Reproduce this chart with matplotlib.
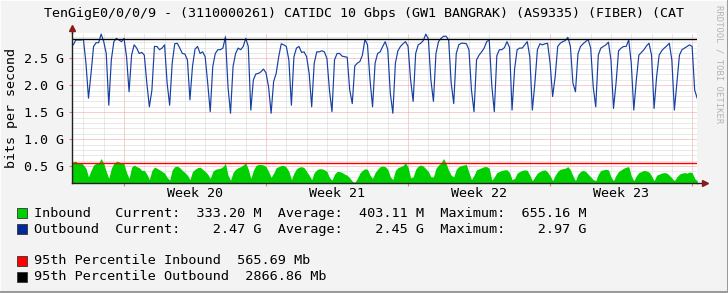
import numpy as np
import matplotlib
matplotlib.use("Agg")
import matplotlib.pyplot as plt
from matplotlib.patches import Rectangle
from matplotlib.lines import Line2D

# ---------------- data (Gbps), samples every 3 hours ----------------
t_start = -2.625          # days relative to start of week 20
t_step = 0.125
outbound = [
    2.72, 2.75, 2.84, 2.84, 2.84, 2.85, 2.41, 1.76, 2.22, 2.72, 2.79, 2.79, 2.95, 2.81, 2.59, 1.63,
    2.47, 2.81, 2.87, 2.84, 2.81, 2.87, 2.53, 1.88, 2.56, 2.75, 2.69, 2.59, 2.61, 2.56, 2.04, 1.60,
    1.91, 2.72, 2.72, 2.66, 2.69, 2.75, 2.04, 1.63, 2.41, 2.77, 2.78, 2.69, 2.59, 2.58, 2.47, 1.73,
    2.35, 2.67, 2.72, 2.59, 2.62, 2.53, 2.04, 1.51, 2.35, 2.59, 2.66, 2.66, 2.69, 2.90, 1.97, 1.48,
    2.35, 2.59, 2.69, 2.66, 2.72, 2.87, 2.72, 1.54, 2.10, 2.21, 2.22, 2.25, 2.30, 2.23, 1.97, 1.48,
    2.07, 2.22, 2.53, 2.77, 2.75, 2.72, 2.47, 1.63, 2.53, 2.69, 2.72, 2.61, 2.62, 2.53, 2.22, 1.60,
    2.41, 2.62, 2.62, 2.64, 2.62, 2.50, 1.91, 1.51, 2.47, 2.59, 2.59, 2.54, 2.53, 2.52, 1.91, 1.66,
    2.36, 2.41, 2.44, 2.56, 2.85, 2.75, 2.10, 1.60, 2.41, 2.59, 2.62, 2.72, 2.81, 2.66, 1.85, 1.48,
    2.41, 2.64, 2.72, 2.77, 2.81, 2.72, 2.10, 1.70, 2.59, 2.75, 2.78, 2.83, 2.95, 2.86, 2.10, 1.70,
    2.59, 2.81, 2.87, 2.91, 2.91, 2.84, 2.04, 1.66, 2.59, 2.75, 2.78, 2.78, 2.77, 2.66, 1.91, 1.51,
    2.47, 2.56, 2.62, 2.69, 2.81, 2.84, 2.00, 1.51, 2.55, 2.66, 2.66, 2.70, 2.81, 2.70, 1.54, 2.30,
    2.66, 2.69, 2.69, 2.75, 2.81, 2.53, 1.54, 2.04, 2.66, 2.77, 2.75, 2.77, 2.78, 2.41, 1.79, 2.16,
    2.72, 2.78, 2.81, 2.83, 2.89, 2.72, 2.04, 1.88, 2.59, 2.72, 2.77, 2.81, 2.85, 2.69, 1.97, 1.60,
    2.56, 2.69, 2.72, 2.75, 2.80, 2.47, 1.57, 2.04, 2.64, 2.69, 2.72, 2.72, 2.84, 2.41, 1.54, 2.10,
    2.56, 2.61, 2.66, 2.73, 2.78, 2.56, 1.57, 2.16, 2.56, 2.64, 2.69, 2.73, 2.78, 2.47, 1.54, 2.04,
    2.56, 2.66, 2.69, 2.72, 2.75, 2.72, 1.91, 1.76,
]
inbound = [
    0.58, 0.58, 0.59, 0.55, 0.56, 0.52, 0.46, 0.30, 0.42, 0.52, 0.55, 0.56, 0.64, 0.55, 0.40, 0.27,
    0.46, 0.55, 0.59, 0.58, 0.56, 0.54, 0.38, 0.27, 0.48, 0.52, 0.49, 0.47, 0.42, 0.42, 0.35, 0.25,
    0.42, 0.48, 0.46, 0.43, 0.40, 0.37, 0.29, 0.24, 0.43, 0.49, 0.50, 0.47, 0.42, 0.38, 0.33, 0.25,
    0.40, 0.44, 0.47, 0.48, 0.44, 0.40, 0.35, 0.27, 0.40, 0.44, 0.45, 0.46, 0.49, 0.55, 0.33, 0.24,
    0.38, 0.44, 0.47, 0.49, 0.52, 0.56, 0.44, 0.27, 0.42, 0.51, 0.53, 0.53, 0.52, 0.49, 0.40, 0.29,
    0.37, 0.47, 0.49, 0.51, 0.51, 0.48, 0.40, 0.25, 0.37, 0.45, 0.48, 0.49, 0.47, 0.40, 0.33, 0.25,
    0.38, 0.43, 0.45, 0.45, 0.43, 0.40, 0.29, 0.24, 0.35, 0.40, 0.40, 0.38, 0.35, 0.33, 0.28, 0.22,
    0.20, 0.27, 0.37, 0.42, 0.45, 0.44, 0.33, 0.27, 0.38, 0.44, 0.49, 0.50, 0.49, 0.44, 0.30, 0.25,
    0.42, 0.47, 0.49, 0.51, 0.56, 0.48, 0.28, 0.30, 0.44, 0.50, 0.52, 0.50, 0.45, 0.40, 0.30, 0.30,
    0.46, 0.52, 0.56, 0.64, 0.55, 0.42, 0.33, 0.30, 0.44, 0.49, 0.51, 0.52, 0.53, 0.38, 0.25, 0.33,
    0.43, 0.45, 0.47, 0.49, 0.49, 0.46, 0.24, 0.30, 0.38, 0.40, 0.42, 0.43, 0.43, 0.38, 0.25, 0.27,
    0.37, 0.40, 0.42, 0.43, 0.42, 0.33, 0.23, 0.30, 0.37, 0.40, 0.42, 0.43, 0.39, 0.32, 0.23, 0.33,
    0.40, 0.44, 0.45, 0.46, 0.49, 0.43, 0.32, 0.23, 0.35, 0.40, 0.42, 0.40, 0.35, 0.30, 0.25, 0.23,
    0.35, 0.42, 0.43, 0.44, 0.43, 0.30, 0.23, 0.33, 0.40, 0.43, 0.46, 0.48, 0.49, 0.32, 0.23, 0.32,
    0.38, 0.40, 0.42, 0.41, 0.39, 0.32, 0.23, 0.33, 0.35, 0.37, 0.38, 0.37, 0.33, 0.28, 0.23, 0.30,
    0.35, 0.37, 0.38, 0.37, 0.39, 0.38, 0.27, 0.23,
]
pct95_in = 0.56569    # Gbps
pct95_out = 2.86686   # Gbps
y_min, y_max = 0.186, 2.97
x_min, x_max = -2.563, 28.24
week_labels = ["Week 20", "Week 21", "Week 22", "Week 23"]
week_starts = [0, 7, 14, 21, 28]
ytick_vals = [0.5, 1.0, 1.5, 2.0, 2.5]
ytick_labels = ["0.5 G", "1.0 G", "1.5 G", "2.0 G", "2.5 G"]

title = "TenGigE0/0/0/9 - (3110000261) CATIDC 10 Gbps (GW1 BANGRAK) (AS9335) (FIBER) (CAT"
legend_rows = [
    ("#00CF00", "Inbound   Current:  333.20 M  Average:  403.11 M  Maximum:  655.16 M"),
    ("#002A97", "Outbound  Current:    2.47 G  Average:    2.45 G  Maximum:    2.97 G"),
]
pct_rows = [
    ("#FF0000", "95th Percentile Inbound  565.69 Mb"),
    ("#000000", "95th Percentile Outbound  2866.86 Mb"),
]

# ---------------- figure ----------------
W, H = 728, 293
MONO = "DejaVu Sans Mono"
FS = 9.6
FS_LEG = 9.7
fig = plt.figure(figsize=(W / 100, H / 100), dpi=100, facecolor="#f3f3f3")


def fx(x):
    return x / W


def fy(y):
    return 1 - y / H


ax = fig.add_axes([fx(72), fy(183), (697 - 72) / W, (183 - 33) / H])
ax.set_facecolor("white")
t = t_start + t_step * np.arange(len(outbound))

# grid
minor_c, major_c = "#d4d4d4", "#f0a0a0"
gl = dict(lw=0.72, linestyle=(0, (1, 1)), zorder=0)
for d in range(-2, 29):
    ax.axvline(d, color=major_c if d % 7 == 0 else minor_c, **gl)
for k in range(2, 30):
    v = k / 10
    if v < y_min or v > y_max:
        continue
    ax.axhline(v, color=major_c if k % 5 == 0 else minor_c, **gl)

ax.fill_between(t, y_min, inbound, color="#00CF00", lw=0, zorder=2)
ax.plot(t, outbound, color="#1540a4", lw=0.85, zorder=3)
ax.axhline(pct95_in, color="#FF0000", lw=1.0, zorder=4)
ax.axhline(pct95_out, color="#000000", lw=1.0, zorder=4)

ax.set_xlim(x_min, x_max)
ax.set_ylim(y_min, y_max)

for s in ["top", "right"]:
    ax.spines[s].set_visible(False)
for s in ["left", "bottom"]:
    ax.spines[s].set_color("#202020")
    ax.spines[s].set_linewidth(1.0)
    ax.spines[s].set_zorder(5)

ax.set_yticks(ytick_vals)
ax.set_yticklabels(ytick_labels, fontfamily=MONO, fontsize=FS)
ax.tick_params(axis="y", length=2, width=0.8, color="#e08080", pad=4)
ax.set_xticks(week_starts)
ax.set_xticklabels([""] * len(week_starts))
ax.set_xticks([w + 3.5 for w in week_starts[:4]], minor=True)
ax.set_xticklabels(week_labels, minor=True, fontfamily=MONO, fontsize=FS)
ax.tick_params(axis="x", which="major", length=2, width=0.8, color="#e08080")
ax.tick_params(axis="x", which="minor", length=0, pad=3)

# axis arrows
arrow_c = "#8b1a1a"
ax.plot([0, 0], [1, 1.03], transform=ax.transAxes, color="#202020", lw=1, clip_on=False)
ax.plot([0], [1.035], transform=ax.transAxes, marker="^", ms=4.5, color=arrow_c, clip_on=False)
ax.plot([1, 1.010], [0, 0], transform=ax.transAxes, color="#202020", lw=1, clip_on=False)
ax.plot([1.012], [0], transform=ax.transAxes, marker=">", ms=4.5, color=arrow_c, clip_on=False)

# texts
fig.text(fx(364), fy(13), title, ha="center", va="center", fontfamily=MONO, fontsize=FS)
fig.text(fx(12), fy(108), "bits per second", rotation=90, ha="center", va="center",
         fontfamily=MONO, fontsize=FS)
fig.text(fx(719), fy(5), "RRDTOOL / TOBI OETIKER", rotation=270, ha="center", va="top",
         fontfamily=MONO, fontsize=6.4, color="#b4b4b4")

rows_y = [213, 229]
for (c, s), y in zip(legend_rows, rows_y):
    fig.patches.append(Rectangle((fx(17), fy(y + 5)), 10 / W, 10 / H, transform=fig.transFigure,
                                 facecolor=c, edgecolor="#333333", lw=0.6))
    fig.text(fx(34), fy(y), s, ha="left", va="center", fontfamily=MONO, fontsize=FS_LEG)
rows_y = [261, 277]
for (c, s), y in zip(pct_rows, rows_y):
    fig.patches.append(Rectangle((fx(17), fy(y + 5)), 10 / W, 10 / H, transform=fig.transFigure,
                                 facecolor=c, edgecolor="#333333", lw=0.6))
    fig.text(fx(34), fy(y), s, ha="left", va="center", fontfamily=MONO, fontsize=FS_LEG)

# 3D border
fig.lines.append(Line2D([0, 0, 1], [0, 1, 1], transform=fig.transFigure, color="#fcfcfc", lw=1.5))
fig.lines.append(Line2D([0, 1, 1], [0.002, 0.002, 1], transform=fig.transFigure, color="#9b9b9b", lw=2.2))

fig.savefig("out.png", dpi=100, facecolor=fig.get_facecolor())
